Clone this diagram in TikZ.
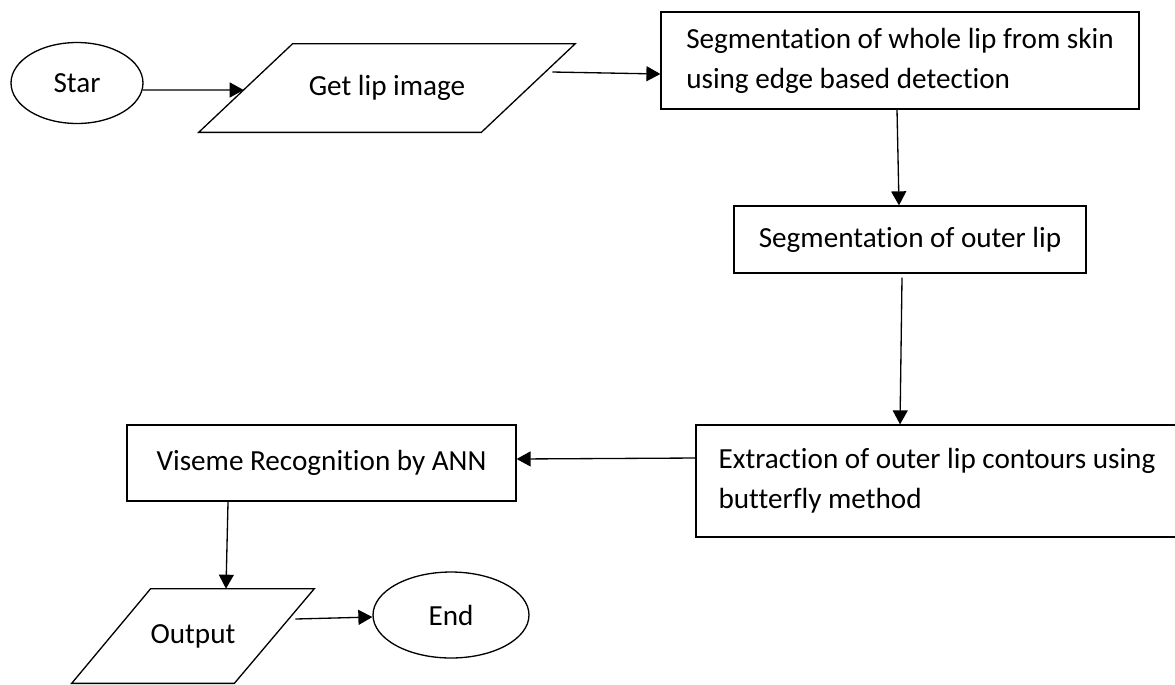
\documentclass[tikz,border=0pt]{standalone}
\usepackage{fontspec}
\setmainfont{Carlito}[Ligatures=NoCommon]
\usetikzlibrary{arrows.meta,shapes.geometric,positioning}

\begin{document}
\begin{tikzpicture}[x=0.02cm,y=-0.02cm, every node/.style={font=\fontsize{16.6}{22.8}\selectfont,align=center,inner sep=0pt},
  term/.style={ellipse,draw,line width=0.75pt},
  io/.style={rectangle},
  box/.style={rectangle,draw,line width=0.75pt,align=left},
  a/.style={-{Triangle[length=2.8mm,width=3mm]},line width=0.75pt}]
  \useasboundingbox (0,0) rectangle (1175,684);
  \node[term,minimum width=2.64cm,minimum height=1.62cm] (start) at (77,83) {Star};
  \node[io,minimum width=7.52cm,minimum height=1.76cm] (getimg) at (387,88) {Get lip image};
  \node[box,minimum width=9.56cm,minimum height=1.94cm] (seglip) at (900,60.5) {Segmentation of whole lip from skin\\using edge based detection};
  \node[box,minimum width=7.04cm,minimum height=1.34cm] (segouter) at (910,239.5) {Segmentation of outer lip};
  \node[box,minimum width=9.64cm,minimum height=2.24cm] (contour) at (937,481) {Extraction of outer lip contours using\\butterfly method};
  \node[box,minimum width=7.78cm,minimum height=1.52cm] (viseme) at (321.5,463) {Viseme Recognition by ANN};
  \node[io,minimum width=4.84cm,minimum height=1.88cm] (output) at (193,636) {Output};
  \node[term,minimum width=3.12cm,minimum height=1.72cm] (finish) at (451,615) {End};
  % parallelograms for input / output
  \draw[line width=0.75pt] (getimg.south west) -- ([xshift=18.8mm]getimg.north west) -- (getimg.north east) -- ([xshift=-18.8mm]getimg.south east) -- cycle;
  \draw[line width=0.75pt] (output.south west) -- ([xshift=15.8mm]output.north west) -- (output.north east) -- ([xshift=-16mm]output.south east) -- cycle;
  \draw[a] (start.-6) -- ([xshift=9mm,yshift=-0.4mm]getimg.west);
  \draw[a] ([xshift=-4.6mm,yshift=3.2mm]getimg.east) -- ([yshift=-2.7mm]seglip.west);
  \draw[a] ([xshift=-0.6mm]seglip.south) -- ([xshift=-2.2mm]segouter.north);
  \draw[a] ([xshift=-1.6mm,yshift=-0.8mm]segouter.south) -- ([xshift=-7.4mm]contour.north);
  \draw[a] ([yshift=4.6mm]contour.west) -- ([yshift=0.8mm]viseme.east);
  \draw[a] ([xshift=-18.7mm]viseme.south) -- ([xshift=6.6mm]output.north);
  \draw[a] ([xshift=-3.8mm,yshift=3.4mm]output.east) -- ([yshift=-0.4mm]finish.west);
\end{tikzpicture}
\end{document}
